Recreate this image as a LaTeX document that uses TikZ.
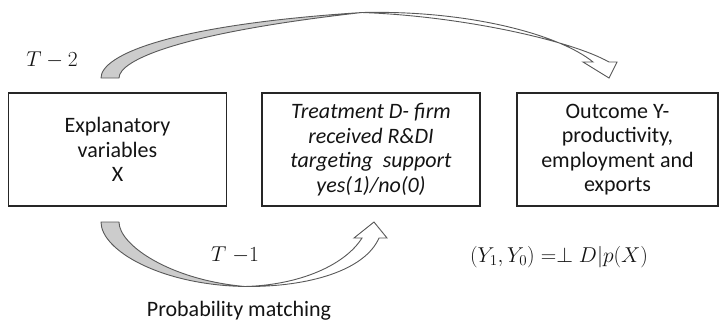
\RequirePackage{fix-cm}
\documentclass[tikz,border=0pt]{standalone}
\usepackage[no-math]{fontspec}
\setmainfont{Carlito}
\newcommand\diagfont{\fontsize{22}{24.5}\selectfont}
\newcommand\mathsize{\fontsize{21.5}{24}\selectfont}
\definecolor{boxline}{HTML}{262626}
\definecolor{arrowline}{HTML}{595959}
\definecolor{arrowback}{HTML}{CCCCCC}
\definecolor{ink}{HTML}{141414}
\tikzset{
  box/.style={draw=boxline, line width=1.2pt, minimum height=113pt,
    inner sep=0pt, align=center, font=\diagfont, text=ink},
  backface/.style={fill=arrowback, draw=arrowline, line width=0.9pt, line join=round},
  frontface/.style={fill=white, draw=arrowline, line width=0.9pt, line join=miter},
  lbl/.style={inner sep=0pt, text=ink}
}
\begin{document}
\begin{tikzpicture}[x=1pt,y=-1pt]
\useasboundingbox (0,0) rectangle (724,322);

% boxes
\node[box, minimum width=218pt] (expl) at (117.5,149.5) {Explanatory\\variables\\X};
\node[box, minimum width=218pt, font=\diagfont\itshape] (treat) at (371,149.5)
  {Treatment D- firm\\received R\&DI\\targeting~ support\\yes(1)/no(0)};
\node[box, minimum width=201pt] (outc) at (617.5,149.5)
  {Outcome Y-\\productivity,\\employment and\\exports};

% curved arrow over the top: X -> outcome
\coordinate (topA) at (101,78);
\coordinate (topB) at (119,78);
\coordinate (topMid) at (362,12.5);
\draw[backface] (topA) .. controls (101,55) and (170,25) .. (topMid)
  .. controls (180,33) and (119,60) .. (topB) -- cycle;
\draw[frontface] (topMid) .. controls (470,10) and (560,35) .. (593,62)
  -- (583,62) -- (609,78) -- (617,62) -- (609,62)
  .. controls (570,40) and (460,16) .. (topMid) -- cycle;

% curved arrow underneath: X -> treatment
\coordinate (botA) at (101,222);
\coordinate (botB) at (119,222);
\coordinate (botMid) at (245,286.5);
\draw[backface] (botA) .. controls (101,250) and (160,285) .. (botMid)
  .. controls (170,280) and (119,245) .. (botB) -- cycle;
\draw[frontface] (botMid) .. controls (310,287) and (365,270) .. (379,238)
  -- (387,238) -- (374,222) -- (354,238) -- (362,238)
  .. controls (345,265) and (300,285) .. (botMid) -- cycle;

% labels
\node[lbl, font=\mathsize] (ttwo) at (52,60) {$T-2$};
\node[lbl, font=\mathsize] (tone) at (235,255) {$T\;{-}1$};
\node[lbl, font=\mathsize] (indep) at (559,257) {$(Y_1,Y_0) = \perp D|p(X)$};
\node[lbl, font=\diagfont] (pm) at (239,311) {Probability matching};
\end{tikzpicture}
\end{document}
